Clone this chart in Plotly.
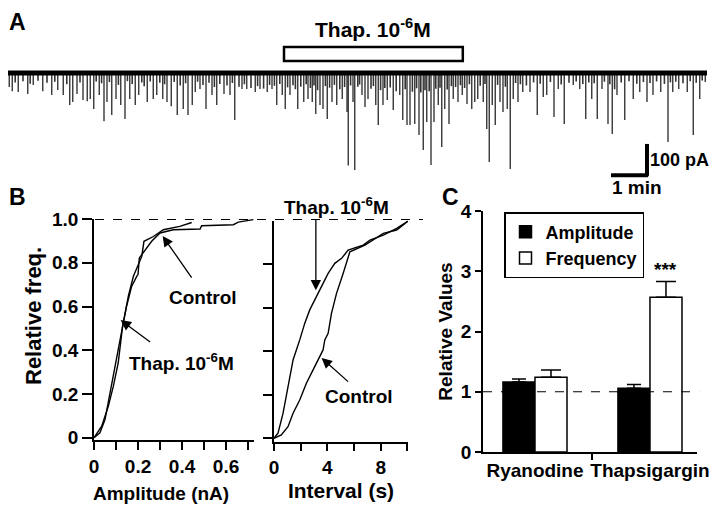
import plotly.graph_objects as go

# ---------------- data ----------------
# Panel A: spontaneous current trace (time in s, downward event amplitude in pA)
trace_start_s, trace_duration_s = 5, 1170
thap_start_s, thap_end_s = 465, 763
spike_times_1 = [7, 12, 22, 38, 47, 63, 78, 88, 97, 108, 113, 120, 130, 137, 142, 148, 157, 165, 170, 178,
                 185, 193, 200, 208, 217, 223, 237, 247, 253, 263, 270, 277, 287]
spike_amps_1 = [45, 58, 61, 67, 38, 58, 70, 54, 70, 102, 93, 67, 86, 90, 83, 115, 70, 154, 93, 134,
                83, 102, 147, 83, 102, 70, 93, 83, 70, 83, 93, 106, 134]
spike_times_2 = [297, 305, 312, 317, 325, 335, 345, 353, 365, 375, 383, 395, 403, 417, 425, 437, 445, 453,
                 462, 467, 475, 488, 498, 505, 512, 518, 525, 530, 537, 545, 553, 562, 570, 572, 580, 583]
spike_amps_2 = [115, 134, 102, 61, 51, 115, 70, 102, 67, 70, 150, 51, 51, 61, 51, 61, 51, 102,
                70, 115, 70, 115, 93, 83, 93, 131, 102, 115, 147, 93, 102, 83, 125, 296, 93, 310]
spike_times_3 = [595, 600, 605, 618, 622, 630, 637, 647, 658, 663, 670, 675, 683, 690, 697, 703, 710, 715,
                 722, 728, 733, 740, 747, 755, 762, 770, 778, 783, 788, 797, 803, 807, 812, 817, 825, 830,
                 837, 842, 847, 855, 863, 875, 887]
spike_amps_3 = [70, 109, 83, 102, 166, 102, 86, 118, 70, 150, 166, 166, 163, 198, 246, 157, 294, 157,
                102, 237, 115, 163, 83, 93, 70, 99, 115, 93, 83, 93, 179, 285, 102, 166, 93, 125,
                115, 307, 83, 93, 61, 61, 134]
spike_times_4 = [897, 903, 915, 922, 932, 947, 958, 968, 978, 987, 995, 1005, 1012, 1020, 1033, 1047,
                 1058, 1070, 1080, 1093, 1105, 1113, 1123, 1137, 1147, 1158, 1167]
spike_amps_4 = [77, 70, 141, 51, 163, 38, 51, 147, 83, 147, 51, 163, 195, 70, 150, 83,
                61, 93, 70, 61, 221, 61, 51, 61, 198, 83, 29]
# small events that thicken the noisy baseline band
small_times = [3, 17, 30, 42, 55, 70, 83, 103, 125, 152, 161, 174, 189, 204, 212, 228, 232, 242, 258, 266,
               282, 292, 301, 321, 330, 340, 349, 358, 370, 379, 390, 399, 410, 421, 431, 441, 449, 458,
               471, 480, 484, 493, 502, 509, 515, 521, 534, 541, 549, 558, 566, 576, 588, 591, 610, 614,
               626, 633, 642, 652, 667, 679, 686, 693, 700, 707, 718, 725, 737, 744, 751, 759, 766, 774,
               792, 800, 821, 834, 851, 859, 869, 881, 892, 909, 927, 940, 952, 963, 973, 982, 999, 1008,
               1016, 1027, 1040, 1053, 1064, 1075, 1086, 1099, 1109, 1118, 1130, 1142, 1152, 1162]
small_amps = [22, 30, 26, 34, 25, 31, 28, 36, 30, 27, 33, 29, 38, 26, 35, 30, 42, 27, 31, 36,
              29, 40, 33, 28, 38, 31, 45, 35, 40, 32, 44, 36, 48, 42, 50, 38, 41, 35,
              46, 39, 52, 44, 36, 48, 40, 55, 42, 47, 38, 52, 45, 40, 44, 37, 50, 42,
              55, 48, 46, 58, 52, 60, 49, 62, 55, 58, 50, 47, 53, 42, 45, 39, 48, 36,
              41, 35, 38, 44, 32, 36, 40, 30, 34, 29, 37, 31, 27, 35, 30, 33, 28, 36,
              52, 30, 26, 34, 29, 32, 27, 35, 30, 28, 33, 26, 31, 24]

# Panel B (left): cumulative amplitude distributions (nA, relative frequency)
amp_thap_x = [0.0, 0.027, 0.05, 0.073, 0.095, 0.118, 0.136, 0.156, 0.179, 0.194, 0.217, 0.227, 0.27, 0.315, 0.39, 0.444]
amp_thap_y = [0.0, 0.023, 0.083, 0.205, 0.327, 0.449, 0.555, 0.647, 0.738, 0.776, 0.829, 0.898, 0.92, 0.951, 0.966, 0.984]
amp_ctrl_x = [0.0, 0.035, 0.065, 0.088, 0.11, 0.13, 0.148, 0.171, 0.194, 0.2, 0.206, 0.239, 0.262, 0.3, 0.36,
              0.482, 0.489, 0.633, 0.656, 0.724]
amp_ctrl_y = [0.0, 0.053, 0.144, 0.236, 0.342, 0.51, 0.601, 0.692, 0.738, 0.746, 0.822, 0.868, 0.898, 0.936, 0.951,
              0.954, 0.969, 0.974, 0.986, 0.997]

# Panel B (right): cumulative inter-event interval distributions (s)
int_thap_x = [0, 0.3, 0.68, 1.05, 1.43, 1.93, 2.31, 2.68, 3.19, 3.56, 4.06, 4.56, 5.07, 5.56, 6.69, 7.2, 8.2, 9.2, 10.08]
int_thap_y = [0, 0.023, 0.115, 0.237, 0.36, 0.452, 0.529, 0.59, 0.651, 0.697, 0.758, 0.804, 0.827, 0.865, 0.888,
              0.911, 0.934, 0.965, 1.0]
int_ctrl_x = [0, 0.55, 1.05, 1.43, 1.93, 2.43, 2.93, 3.31, 3.68, 3.81, 4.06, 4.31, 4.69, 5.19, 5.69, 6.82, 7.2, 8.2,
              9.2, 10.08]
int_ctrl_y = [0, 0.015, 0.053, 0.115, 0.176, 0.253, 0.314, 0.36, 0.406, 0.452, 0.482, 0.574, 0.666, 0.758, 0.857,
              0.888, 0.903, 0.942, 0.957, 1.0]

# Panel C: relative values
categories = ["Ryanodine", "Thapsigargin"]
amplitude_vals = [1.16, 1.06]
amplitude_err = [0.05, 0.06]
frequency_vals = [1.24, 2.57]
frequency_err = [0.12, 0.26]

# ---------------- layout helpers ----------------
# the page body has an 8 px default margin, so the figure is 8 px smaller and
# positions are given in window pixels then shifted.
OFF = 8
W, H = 720 - OFF, 505 - OFF
def X(px):
    return (px - OFF) / W
def Y(py):
    return 1 - (py - OFF) / H

FAM = "Liberation Sans, Arial, Helvetica, sans-serif"
def F(size=19):
    return dict(family=FAM, size=size, color="black", weight="bold")

fig = go.Figure()

# ---------------- Panel A ----------------
def spikes(times, amps):
    sx, sy = [], []
    for t, a in zip(times, amps):
        sx += [t, t, None]
        sy += [0, -a, None]
    return sx, sy

sx, sy = spikes(small_times, small_amps)
fig.add_trace(go.Scatter(x=sx, y=sy, mode="lines", line=dict(color="#333333", width=1.6),
                         xaxis="x", yaxis="y", showlegend=False, hoverinfo="skip"))
sx, sy = spikes(spike_times_1 + spike_times_2 + spike_times_3 + spike_times_4,
                spike_amps_1 + spike_amps_2 + spike_amps_3 + spike_amps_4)
fig.add_trace(go.Scatter(x=sx, y=sy, mode="lines", line=dict(color="black", width=1.1),
                         xaxis="x", yaxis="y", showlegend=False, hoverinfo="skip"))
fig.add_trace(go.Scatter(x=[trace_start_s, trace_duration_s], y=[0, 0], mode="lines",
                         line=dict(color="black", width=5),
                         xaxis="x", yaxis="y", showlegend=False, hoverinfo="skip"))

# ---------------- Panel B ----------------
for xs, ys, ax in [(amp_ctrl_x, amp_ctrl_y, ("x2", "y2")), (amp_thap_x, amp_thap_y, ("x2", "y2")),
                   (int_ctrl_x, int_ctrl_y, ("x3", "y3")), (int_thap_x, int_thap_y, ("x3", "y3"))]:
    fig.add_trace(go.Scatter(x=xs, y=ys, mode="lines", line=dict(color="black", width=1.4),
                             xaxis=ax[0], yaxis=ax[1], showlegend=False, hoverinfo="skip"))

# ---------------- Panel C ----------------
xpos = list(range(len(categories)))
fig.add_trace(go.Bar(x=xpos, y=amplitude_vals, name="Amplitude", xaxis="x4", yaxis="y4",
                     marker=dict(color="black", line=dict(color="black", width=1.5)),
                     error_y=dict(type="data", array=amplitude_err, arrayminus=[0] * len(categories),
                                  symmetric=False, color="black", thickness=1.5, width=7)))
fig.add_trace(go.Bar(x=xpos, y=frequency_vals, name="Frequency", xaxis="x4", yaxis="y4",
                     marker=dict(color="white", line=dict(color="black", width=1.5)),
                     error_y=dict(type="data", array=frequency_err, arrayminus=[0] * len(categories),
                                  symmetric=False, color="black", thickness=1.5, width=10)))

bargap = 0.443
group_w = 1 - bargap

axis_common = dict(showline=True, linecolor="black", linewidth=1.5, ticks="outside", tickcolor="black",
                   tickwidth=1.5, showgrid=False, zeroline=False, tickfont=F(19), fixedrange=True,
                   automargin=False)
def minor(vals, length):
    return dict(tickmode="array", tickvals=vals, ticks="outside", ticklen=length, tickwidth=1.5,
                tickcolor="black", showgrid=False)

layout = dict(
    template="none",
    width=W, height=H, margin=dict(l=0, r=0, t=0, b=0, pad=0), autosize=False,
    paper_bgcolor="white", plot_bgcolor="white", font=F(19),
    barmode="group", bargap=bargap, bargroupgap=0,
    showlegend=True,
    legend=dict(x=X(504), y=Y(212), xanchor="left", yanchor="top", bordercolor="black", borderwidth=1.5,
                bgcolor="white", font=F(18), tracegroupgap=0, traceorder="normal"),
    # Panel A (0.6 px per second)
    xaxis=dict(domain=[X(8), X(707)], range=[trace_start_s, trace_duration_s], visible=False,
               fixedrange=True, automargin=False),
    yaxis=dict(domain=[Y(180), Y(40)], range=[-342.4, 105.6], visible=False, fixedrange=True,
               automargin=False),
    # Panel B left
    xaxis2=dict(axis_common, domain=[X(94), X(254)], range=[0, 0.727], anchor="y2",
                tickmode="array", tickvals=[0, 0.2, 0.4, 0.6], ticktext=["0", "0.2", "0.4", "0.6"],
                ticklen=8, minor=minor([0.1, 0.3, 0.5, 0.7], 8)),
    yaxis2=dict(axis_common, domain=[Y(440), Y(219)], range=[-0.01, 1.0], anchor="x2",
                tickmode="array", tickvals=[0, 0.2, 0.4, 0.6, 0.8, 1.0],
                ticktext=["0", "0.2", "0.4", "0.6", "0.8", "1.0"], ticklen=10),
    # Panel B right
    xaxis3=dict(axis_common, domain=[X(274), X(408)], range=[0, 10.05], anchor="y3",
                tickmode="array", tickvals=[0, 4, 8], ticktext=["0", "4", "8"], ticklen=8,
                minor=minor([2, 6, 10], 8),
                title=dict(text="Interval (s)", font=F(21), standoff=6)),
    yaxis3=dict(axis_common, domain=[Y(441.5), Y(220.7)], range=[-0.015, 1.0], anchor="x3",
                tickmode="array", tickvals=[0, 0.2, 0.4, 0.6, 0.8], showticklabels=False, ticklen=9),
    # Panel C
    xaxis4=dict(axis_common, domain=[X(483), X(697)], range=[-0.452, 1.409], anchor="y4",
                tickmode="array", tickvals=xpos, ticktext=categories, ticklen=0, tickwidth=0.01,
                minor=minor([0.5], 6)),
    yaxis4=dict(axis_common, domain=[Y(452), Y(211)], range=[0, 4], anchor="x4",
                tickmode="array", tickvals=[0, 1, 2, 3, 4], ticklen=6,
                title=dict(text="Relative Values", font=F(19), standoff=3)),
)
fig.update_layout(**layout)

shapes = [
    # Thapsigargin application bar (panel A)
    dict(type="rect", xref="x", yref="paper", x0=thap_start_s, x1=thap_end_s, y0=Y(61), y1=Y(47),
         line=dict(color="black", width=2.5), fillcolor="white"),
    # scale bars (panel A): 1 min, 100 pA
    dict(type="line", xref="x", yref="y", x0=1010, x1=1072, y0=-327, y1=-327, line=dict(color="black", width=4)),
    dict(type="line", xref="x", yref="y", x0=1070, x1=1070, y0=-329, y1=-227, line=dict(color="black", width=4)),
    # dashed 1.0 line across panel B
    dict(type="line", xref="paper", yref="paper", x0=X(95), x1=X(423), y0=Y(219.5), y1=Y(219.5),
         line=dict(color="black", width=1.2, dash="dash")),
    # dashed 1.0 line in panel C
    dict(type="line", xref="x4 domain", yref="y4", x0=0, x1=1.01, y0=1, y1=1,
         line=dict(color="black", width=1.2, dash="dash")),
]
fig.update_layout(shapes=shapes)

ann = []
def txt(text, x, y, xref="paper", yref="paper", size=19, xanchor="center", yanchor="middle", angle=0):
    ann.append(dict(text=text, x=x, y=y, xref=xref, yref=yref, showarrow=False, font=F(size),
                    xanchor=xanchor, yanchor=yanchor, textangle=angle, borderpad=0))
def arrow(x, y, xref, yref, ax, ay):
    ann.append(dict(text="", x=x, y=y, xref=xref, yref=yref, ax=ax, ay=ay, axref="pixel", ayref="pixel",
                    showarrow=True, arrowhead=2, arrowsize=1.6, arrowwidth=1.3, arrowcolor="black"))

# panel letters
txt("A", X(8), Y(8), size=23, xanchor="left", yanchor="top")
txt("B", X(8), Y(183), size=23, xanchor="left", yanchor="top")
txt("C", X(441), Y(183), size=23, xanchor="left", yanchor="top")
# panel A labels
txt("Thap. 10<sup>-6</sup>M", (thap_start_s + thap_end_s) / 2, Y(28), xref="x", size=21)
txt("100 pA", 1073, -277, xref="x", yref="y", xanchor="left", size=18)
txt("1 min", 1054, Y(187), xref="x")
# panel B axis titles
txt("Relative freq.", X(33), Y(316), size=22, angle=-90)
txt("Amplitude (nA)", X(161), Y(493))
# panel B left
arrow(0.312, 0.922, "x2", "y2", 30, 43)
txt("Control", 0.494, 0.643, xref="x2", yref="y2")
arrow(0.121, 0.538, "x2", "y2", 31, 23)
txt("Thap. 10<sup>-6</sup>M", 0.399, 0.347, xref="x2", yref="y2")
# panel B right
arrow(3.14, 0.68, "x3", "y3", 0, -72)
txt("Thap. 10<sup>-6</sup>M", 4.71, Y(206), xref="x3")
arrow(3.57, 0.369, "x3", "y3", 28, 25)
txt("Control", 6.36, 0.19, xref="x3", yref="y3")
# panel C significance
txt("***", 1 + group_w / 4, frequency_vals[1] + frequency_err[1], xref="x4", yref="y4", yanchor="bottom")
fig.update_layout(annotations=ann)

fig.write_html("out.html")
